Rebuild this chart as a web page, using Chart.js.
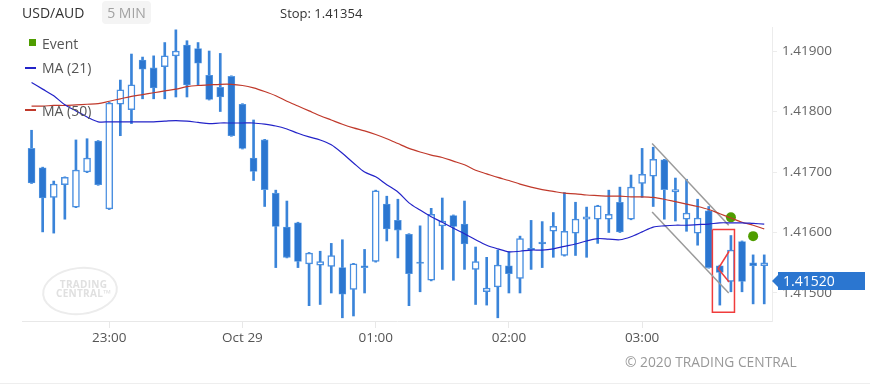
<!DOCTYPE html>
<html>
<head>
<meta charset="utf-8">
<script src="https://cdn.jsdelivr.net/npm/chart.js@4.4.0/dist/chart.umd.min.js"></script>
<style>
    body { margin: 0; background: #fff; font-family: 'Open Sans', sans-serif; }
    #wrap { position: relative; width: 870px; height: 384px; overflow: hidden; }
    #chart { position: absolute; left: 0; top: 0; }
    .txt { position: absolute; white-space: nowrap; }
    .sym { left: 22px; top: 3px; font-size: 14px; line-height: 20px; color: #333; }
    .tf { left: 102px; top: 1px; width: 49px; height: 23px; line-height: 23px; background: #f4f4f4;
          border-radius: 4px; text-align: center; font-size: 14px; color: #a2a2a2; }
    .stop { left: 280px; top: 4px; font-size: 13px; line-height: 18px; color: #333; }
    .leg { left: 42px; font-size: 14px; line-height: 18px; color: #555; }
    .mark { position: absolute; }
    .wm { position: absolute; left: 42px; top: 267px; width: 72px; height: 44px; border: 2px solid #ececec;
          border-radius: 50%; transform: rotate(-6deg); }
    .wmtxt { position: absolute; left: 56px; top: 280px; font-size: 10px; line-height: 9px; font-weight: 700;
             color: #e0e0e0; text-align: center; letter-spacing: 0.3px; }
    .copy { left: 625px; top: 353px; font-size: 13.8px; line-height: 18px; color: #999; }
    .foot { position: absolute; left: 0; top: 383px; width: 870px; height: 1px; background: #eee; }
</style>
</head>
<body>
<div id="wrap">
    <canvas id="chart" width="870" height="384"></canvas>

    <!-- header -->
    <div class="txt sym">USD/AUD</div>
    <div class="txt tf">5 MIN</div>
    <div class="txt stop">Stop: 1.41354</div>

    <!-- legend -->
    <div class="mark" style="left:29px;top:39px;width:7px;height:7px;background:#4f9d00;"></div>
    <div class="txt leg" style="top:35px;">Event</div>
    <div class="mark" style="left:25px;top:67px;width:11px;height:2px;background:#2323c8;"></div>
    <div class="txt leg" style="top:59px;">MA (21)</div>
    <div class="mark" style="left:25px;top:109px;width:11px;height:2px;background:#c0392b;"></div>
    <div class="txt leg" style="top:102px;">MA (50)</div>

    <!-- watermark -->
    <div class="wm"></div>
    <div class="txt wmtxt">TRADING<br>CENTRAL&#8482;</div>

    <div class="txt copy">© 2020 TRADING CENTRAL</div>
    <div class="foot"></div>
</div>

<script>
// ============================================
// DATA - 5 minute candles, 22:25 to 03:55
// ============================================
const opens = [1.41739, 1.41707, 1.41658, 1.41679, 1.41642, 1.41700, 1.41751, 1.41639, 1.41812, 1.41803,
    1.41885, 1.41872, 1.41874, 1.41892, 1.41910, 1.41904, 1.41860, 1.41840, 1.41858, 1.41812,
    1.41723, 1.41753, 1.41665, 1.41609, 1.41616, 1.41548, 1.41546, 1.41544, 1.41542, 1.41506,
    1.41545, 1.41552, 1.41647, 1.41620, 1.41597, 1.41551, 1.41521, 1.41611, 1.41628, 1.41614,
    1.41539, 1.41502, 1.41510, 1.41545, 1.41524, 1.41574, 1.41584, 1.41602, 1.41562, 1.41599,
    1.41622, 1.41622, 1.41622, 1.41650, 1.41622, 1.41681, 1.41693, 1.41720, 1.41667, 1.41622,
    1.41599, 1.41636, 1.41545, 1.41519, 1.41585, 1.41550, 1.41545];
const highs = [1.41769, 1.41708, 1.41685, 1.41692, 1.41753, 1.41755, 1.41752, 1.41815, 1.41852, 1.41895,
    1.41890, 1.41892, 1.41914, 1.41935, 1.41917, 1.41914, 1.41900, 1.41896, 1.41859, 1.41813,
    1.41786, 1.41754, 1.41670, 1.41652, 1.41617, 1.41567, 1.41569, 1.41582, 1.41588, 1.41549,
    1.41572, 1.41670, 1.41660, 1.41655, 1.41598, 1.41611, 1.41640, 1.41657, 1.41629, 1.41652,
    1.41576, 1.41559, 1.41571, 1.41568, 1.41594, 1.41620, 1.41618, 1.41633, 1.41666, 1.41650,
    1.41642, 1.41645, 1.41670, 1.41675, 1.41695, 1.41739, 1.41741, 1.41721, 1.41690, 1.41688,
    1.41655, 1.41643, 1.41546, 1.41595, 1.41586, 1.41563, 1.41563];
const lows = [1.41681, 1.41601, 1.41599, 1.41622, 1.41641, 1.41699, 1.41678, 1.41638, 1.41760, 1.41780,
    1.41821, 1.41821, 1.41821, 1.41824, 1.41824, 1.41844, 1.41819, 1.41800, 1.41759, 1.41738,
    1.41686, 1.41643, 1.41542, 1.41558, 1.41542, 1.41479, 1.41481, 1.41500, 1.41459, 1.41462,
    1.41500, 1.41551, 1.41586, 1.41558, 1.41479, 1.41502, 1.41520, 1.41539, 1.41521, 1.41539,
    1.41481, 1.41480, 1.41459, 1.41500, 1.41500, 1.41539, 1.41542, 1.41559, 1.41561, 1.41562,
    1.41559, 1.41582, 1.41600, 1.41600, 1.41621, 1.41658, 1.41643, 1.41622, 1.41619, 1.41602,
    1.41579, 1.41541, 1.41480, 1.41502, 1.41502, 1.41482, 1.41482];
const closes = [1.41682, 1.41657, 1.41680, 1.41691, 1.41703, 1.41723, 1.41679, 1.41814, 1.41836, 1.41844,
    1.41870, 1.41839, 1.41892, 1.41900, 1.41844, 1.41880, 1.41820, 1.41824, 1.41760, 1.41739,
    1.41701, 1.41671, 1.41610, 1.41559, 1.41552, 1.41566, 1.41552, 1.41562, 1.41498, 1.41548,
    1.41542, 1.41669, 1.41606, 1.41604, 1.41532, 1.41549, 1.41630, 1.41619, 1.41610, 1.41581,
    1.41552, 1.41508, 1.41546, 1.41532, 1.41590, 1.41571, 1.41581, 1.41610, 1.41602, 1.41622,
    1.41626, 1.41644, 1.41630, 1.41601, 1.41675, 1.41696, 1.41721, 1.41671, 1.41671, 1.41632,
    1.41624, 1.41542, 1.41534, 1.41571, 1.41519, 1.41545, 1.41550];

// Moving averages
const ma21 = [1.41848, 1.41837, 1.41826, 1.41811, 1.41801, 1.41791, 1.41783, 1.41783, 1.41783, 1.41783,
    1.41783, 1.41783, 1.41784, 1.41785, 1.41784, 1.41782, 1.41780, 1.41781, 1.41781, 1.41781,
    1.41781, 1.41779, 1.41776, 1.41771, 1.41764, 1.41758, 1.41753, 1.41745, 1.41731, 1.41715,
    1.41700, 1.41692, 1.41679, 1.41667, 1.41649, 1.41637, 1.41626, 1.41617, 1.41607, 1.41598,
    1.41588, 1.41579, 1.41573, 1.41568, 1.41569, 1.41571, 1.41571, 1.41573, 1.41577, 1.41581,
    1.41586, 1.41590, 1.41589, 1.41588, 1.41593, 1.41601, 1.41609, 1.41611, 1.41612, 1.41612,
    1.41613, 1.41614, 1.41616, 1.41616, 1.41616, 1.41615, 1.41614];
const ma50 = [1.41809, 1.41809, 1.41810, 1.41810, 1.41811, 1.41812, 1.41813, 1.41817, 1.41821, 1.41825,
    1.41828, 1.41831, 1.41834, 1.41837, 1.41841, 1.41843, 1.41844, 1.41845, 1.41845, 1.41843,
    1.41839, 1.41833, 1.41826, 1.41817, 1.41809, 1.41801, 1.41793, 1.41786, 1.41779, 1.41773,
    1.41768, 1.41762, 1.41755, 1.41747, 1.41739, 1.41733, 1.41728, 1.41724, 1.41718, 1.41712,
    1.41703, 1.41697, 1.41691, 1.41686, 1.41680, 1.41675, 1.41671, 1.41668, 1.41665, 1.41664,
    1.41662, 1.41661, 1.41660, 1.41660, 1.41659, 1.41659, 1.41658, 1.41655, 1.41651, 1.41647,
    1.41643, 1.41638, 1.41631, 1.41624, 1.41617, 1.41612, 1.41606];

// Events (green dots)
const eventIdx = [63, 65];
const eventPrice = [1.41625, 1.41594];

// Drawn annotations: falling channel, red box and arrow
const channelX = [55.9, 62.8];
const channelUpper = [1.41747, 1.41612];
const channelLower = [1.41634, 1.41500];
const boxX = [61.33, 63.32];
const boxY = [1.41605, 1.41468];
const arrowX = [62.84, 61.85, 62.84];
const arrowY = [1.41569, 1.41540, 1.41518];

// Axes
const timeTickIdx = [7, 19, 31, 43, 55];
const timeTickLabels = ['23:00', 'Oct 29', '01:00', '02:00', '03:00'];
const priceTicks = [1.415, 1.416, 1.417, 1.418, 1.419];
const lastPrice = 1.41520;

// ============================================
// BUILD DATASETS
// ============================================
const idx = opens.map((_, i) => i);
const isUp = idx.map(i => closes[i] >= opens[i]);

const wickData = idx.map(i => ({ x: i, y: [lows[i], highs[i]] }));
const bodyData = idx.map(i => ({ x: i, y: [Math.min(opens[i], closes[i]), Math.max(opens[i], closes[i])] }));

const boxPts = [
    { x: boxX[0], y: boxY[0] }, { x: boxX[1], y: boxY[0] },
    { x: boxX[1], y: boxY[1] }, { x: boxX[0], y: boxY[1] }, { x: boxX[0], y: boxY[0] }
];

// Small helper for thin overlay lines
function overlayLine(points, color, width) {
    return {
        type: 'line',
        data: points,
        borderColor: color,
        borderWidth: width,
        pointRadius: 0,
        tension: 0,
        order: 0
    };
}

// Last price tag on the right axis
const lastPriceTag = {
    id: 'lastPriceTag',
    afterDraw(chart) {
        const ctx = chart.ctx;
        const y = Math.round(chart.scales.y.getPixelForValue(lastPrice));
        const x0 = chart.chartArea.right;
        ctx.save();
        ctx.fillStyle = '#2b76d0';
        ctx.beginPath();
        ctx.moveTo(x0, y);
        ctx.lineTo(x0 + 7, y - 7);
        ctx.lineTo(x0 + 7, y + 7);
        ctx.closePath();
        ctx.fill();
        ctx.fillRect(x0 + 6, y - 9, 87, 18);
        ctx.fillStyle = '#fff';
        ctx.font = "14px 'Open Sans', sans-serif";
        ctx.textBaseline = 'middle';
        ctx.fillText(lastPrice.toFixed(5), x0 + 11, y + 1);
        ctx.restore();
    }
};

const ctx = document.getElementById('chart').getContext('2d');
new Chart(ctx, {
    type: 'bar',
    data: {
        datasets: [
            // Moving averages
            {
                type: 'line', label: 'MA (21)',
                data: idx.map(i => ({ x: i, y: ma21[i] })),
                borderColor: '#2323c8', borderWidth: 1.2, pointRadius: 0, tension: 0.3, order: 0
            },
            {
                type: 'line', label: 'MA (50)',
                data: idx.map(i => ({ x: i, y: ma50[i] })),
                borderColor: '#c0392b', borderWidth: 1.2, pointRadius: 0, tension: 0.3, order: 0
            },
            // Channel lines
            overlayLine(channelX.map((x, k) => ({ x: x, y: channelUpper[k] })), '#9a9a9a', 1.5),
            overlayLine(channelX.map((x, k) => ({ x: x, y: channelLower[k] })), '#9a9a9a', 1.5),
            // Red box and arrow
            overlayLine(boxPts, '#f03c3c', 1.5),
            overlayLine(arrowX.map((x, k) => ({ x: x, y: arrowY[k] })), '#f03c3c', 1.5),
            // Events
            {
                type: 'line', label: 'Event',
                data: eventIdx.map((x, k) => ({ x: x, y: eventPrice[k] })),
                showLine: false, pointRadius: 5, pointBackgroundColor: '#4f9d00',
                pointBorderWidth: 0, order: 0
            },
            // Candle bodies
            {
                label: 'bodies',
                data: bodyData,
                backgroundColor: isUp.map(u => u ? '#ffffff' : '#2b76d0'),
                borderColor: isUp.map(u => u ? '#4a8fe0' : '#5a9be3'),
                borderWidth: isUp.map(u => u ? 1.5 : 0.8),
                borderSkipped: false,
                barThickness: 7,
                grouped: false,
                order: 1
            },
            // Candle wicks
            {
                label: 'wicks',
                data: wickData,
                backgroundColor: '#3a84d9',
                borderWidth: 0,
                barThickness: 2,
                grouped: false,
                order: 2
            }
        ]
    },
    options: {
        responsive: false,
        animation: false,
        devicePixelRatio: 1,
        layout: { padding: { left: 22, top: 27, right: 0, bottom: 0 } },
        plugins: {
            legend: { display: false },
            tooltip: { enabled: false }
        },
        scales: {
            x: {
                type: 'linear',
                min: -0.86,
                max: 66.7,
                offset: false,
                afterFit: (s) => { s.height = 63; },
                afterBuildTicks: (s) => { s.ticks = timeTickIdx.map(v => ({ value: v })); },
                grid: { drawOnChartArea: false, offset: false, tickLength: 7, color: '#e8e8e8' },
                border: { color: '#e8e8e8' },
                ticks: {
                    padding: 2,
                    color: '#555',
                    font: { size: 13.5, family: "'Open Sans', sans-serif" },
                    callback: (v) => timeTickLabels[timeTickIdx.indexOf(v)] || ''
                }
            },
            y: {
                position: 'right',
                min: 1.414537,
                max: 1.419397,
                beginAtZero: false,
                afterFit: (s) => { s.width = 98; },
                afterBuildTicks: (s) => { s.ticks = priceTicks.map(v => ({ value: v })); },
                grid: { drawOnChartArea: false, tickLength: 5, color: '#ececec' },
                border: { color: '#ececec' },
                ticks: {
                    padding: 5,
                    color: '#666',
                    font: { size: 13.5, family: "'Open Sans', sans-serif" },
                    callback: (v) => Number(v).toFixed(5)
                }
            }
        }
    },
    plugins: [lastPriceTag]
});
</script>
</body>
</html>
